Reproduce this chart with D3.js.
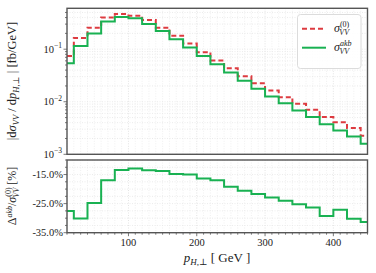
<!DOCTYPE html>
<html>
<head>
<meta charset="utf-8">
<script src="https://cdn.jsdelivr.net/npm/d3@7"></script>
<style>
  body { margin: 0; background: #fff; }
  text { font-family: "Liberation Serif", "DejaVu Serif", serif; fill: #222; }
</style>
</head>
<body>
<svg id="chart" width="376" height="273"></svg>
<script>
// bin edges in p_T [GeV]
var edges = [10, 20, 40, 60, 80, 100, 120, 140, 160, 180, 200, 220, 240, 260, 280,
             300, 320, 340, 360, 380, 400, 420, 440, 450];
// LO distribution sigma^(0)_VV [fb/GeV]
var lo = [0.0746, 0.164, 0.257, 0.399, 0.469, 0.435, 0.360, 0.257, 0.181, 0.128,
          0.0877, 0.0607, 0.0435, 0.0307, 0.0226, 0.0163, 0.01224, 0.00912, 0.00702,
          0.00510, 0.00409, 0.00315, 0.00225];
// sigma^akb_VV [fb/GeV]
var akb = [0.0542, 0.1155, 0.198, 0.335, 0.411, 0.389, 0.303, 0.223, 0.155, 0.1073,
           0.0746, 0.0519, 0.0359, 0.0250, 0.0176, 0.01256, 0.0094, 0.0068, 0.0051,
           0.00375, 0.00283, 0.00218, 0.00158];
// relative difference [%]
var ratio = [-27.5, -30.1, -24.8, -17.0, -13.4, -12.9, -13.5, -13.8, -14.8, -15.0,
             -16.4, -17.0, -19.2, -20.6, -21.7, -22.9, -24.0, -25.2, -26.3, -29.3,
             -27.1, -30.2, -31.3];
var xTicks = [100, 200, 300, 400];
var topTicks = [-1, -2, -3];
var ratioTicks = [-15, -25, -35];

var red = "#dd3b40", green = "#19b152", frame = "#555";
var svg = d3.select("#chart");

var x = d3.scaleLinear().domain([10, 450]).range([67, 367.5]);
var yTop = d3.scaleLog().domain([1e-3, 0.6]).range([154.3, 8.3]);
var yBot = d3.scaleLinear().domain([-35, -10]).range([232.7, 160]);

function steps(vals) {
    var pts = vals.map((v, i) => [edges[i], v]);
    pts.push([edges[edges.length - 1], vals[vals.length - 1]]);
    return pts;
}

// ---------- grids ----------
var minorX = d3.range(10, 451, 10);
var logMinor = [];
[1e-3, 1e-2, 1e-1].forEach(function (d) {
    for (var k = 1; k < 10; k++) if (d * k <= 0.6) logMinor.push(d * k);
});
var ratioMinor = d3.range(-35, -9, 2.5);

function grid(y0, y1, yScale, yVals) {
    var g = svg.append("g");
    g.selectAll(".vx").data(minorX).enter().append("line")
        .attr("x1", d => x(d)).attr("x2", d => x(d))
        .attr("y1", y0).attr("y2", y1)
        .attr("stroke", d => d % 100 == 0 ? "#dcdcdc" : "#ececec")
        .attr("stroke-dasharray", "1,1.5").attr("stroke-width", 0.8);
    g.selectAll(".hy").data(yVals).enter().append("line")
        .attr("x1", x.range()[0]).attr("x2", x.range()[1])
        .attr("y1", d => yScale(d)).attr("y2", d => yScale(d))
        .attr("stroke", "#e6e6e6")
        .attr("stroke-dasharray", "1,1.5").attr("stroke-width", 0.8);
}
grid(8.3, 154.3, yTop, logMinor);
grid(160, 232.7, yBot, ratioMinor);

// ---------- curves ----------
var lineTop = d3.line().curve(d3.curveStepAfter).x(d => x(d[0])).y(d => yTop(d[1]));
var lineBot = d3.line().curve(d3.curveStepAfter).x(d => x(d[0])).y(d => yBot(d[1]));

svg.append("path").attr("d", lineTop(steps(lo))).attr("fill", "none")
    .attr("stroke", red).attr("stroke-width", 2).attr("stroke-dasharray", "5,3");
svg.append("path").attr("d", lineTop(steps(akb))).attr("fill", "none")
    .attr("stroke", green).attr("stroke-width", 2);
svg.append("path").attr("d", lineBot(steps(ratio))).attr("fill", "none")
    .attr("stroke", green).attr("stroke-width", 2);

// ---------- frames ----------
[[8.3, 154.3], [160, 232.7]].forEach(function (r) {
    svg.append("rect").attr("x", 67).attr("y", r[0])
        .attr("width", 300.5).attr("height", r[1] - r[0])
        .attr("fill", "none").attr("stroke", frame).attr("stroke-width", 1.4);
});

// ---------- ticks ----------
var tk = svg.append("g").attr("stroke", frame).attr("stroke-width", 0.8);
minorX.forEach(function (d) {
    var len = d % 100 == 0 ? 3.5 : 2;
    tk.append("line").attr("x1", x(d)).attr("x2", x(d))
        .attr("y1", 232.7).attr("y2", 232.7 + len);
});
logMinor.forEach(function (d) {
    var major = Math.abs(Math.log10(d) - Math.round(Math.log10(d))) < 1e-9;
    tk.append("line").attr("x1", 67).attr("x2", 67 - (major ? 3.5 : 2))
        .attr("y1", yTop(d)).attr("y2", yTop(d));
});
ratioMinor.forEach(function (d) {
    var major = ratioTicks.indexOf(d) >= 0;
    tk.append("line").attr("x1", 67).attr("x2", 67 - (major ? 3.5 : 2))
        .attr("y1", yBot(d)).attr("y2", yBot(d));
});

// x tick labels
svg.selectAll(".xl").data(xTicks).enter().append("text")
    .attr("x", d => x(d)).attr("y", 245.5).attr("text-anchor", "middle")
    .attr("font-size", 10.5).text(d => d);

// top y labels 10^n
topTicks.forEach(function (p) {
    var t = svg.append("text").attr("x", 62).attr("y", yTop(Math.pow(10, p)) + 3.5)
        .attr("text-anchor", "end").attr("font-size", 10.5);
    t.append("tspan").text("10");
    t.append("tspan").attr("dy", -4.5).attr("font-size", 7.5).text("\u2212" + (-p));
});

// ratio labels
svg.selectAll(".rl").data(ratioTicks).enter().append("text")
    .attr("x", 63).attr("y", d => yBot(d) + 3.5).attr("text-anchor", "end")
    .attr("font-size", 10.5).text(d => d.toFixed(1) + "%");

// ---------- axis titles ----------
var t1 = svg.append("text").attr("transform", "translate(16,81) rotate(-90)")
    .attr("text-anchor", "middle").attr("font-size", 12.5);
t1.append("tspan").text("|d");
t1.append("tspan").attr("font-style", "italic").text("\u03c3");
t1.append("tspan").attr("font-style", "italic").attr("font-size", 8.5).attr("dy", 2.5).text("VV");
t1.append("tspan").attr("dy", -2.5).text(" / d");
t1.append("tspan").attr("font-style", "italic").text("p");
t1.append("tspan").attr("font-style", "italic").attr("font-size", 8.5).attr("dy", 2.5).text("H,\u22a5");
t1.append("tspan").attr("dy", -2.5).text(" | [fb/GeV]");

var t2 = svg.append("text").attr("transform", "translate(16,196) rotate(-90)")
    .attr("text-anchor", "middle").attr("font-size", 12);
t2.append("tspan").text("\u0394");
t2.append("tspan").attr("font-style", "italic").attr("font-size", 8).attr("dy", -4.5).text("akb");
t2.append("tspan").attr("dy", 4.5).text("/");
t2.append("tspan").attr("font-style", "italic").text("\u03c3");
t2.append("tspan").attr("font-size", 8).attr("dy", -5).text("(0)");
t2.append("tspan").attr("font-style", "italic").attr("font-size", 8).attr("dx", -10).attr("dy", 8).text("VV");
t2.append("tspan").attr("dy", -3).text(" [%]");

var t3 = svg.append("text").attr("x", 217).attr("y", 262).attr("text-anchor", "middle")
    .attr("font-size", 13);
t3.append("tspan").attr("font-style", "italic").text("p");
t3.append("tspan").attr("font-style", "italic").attr("font-size", 9).attr("dy", 2.5).text("H,\u22a5");
t3.append("tspan").attr("dy", -2.5).text(" [ GeV ]");

// ---------- legend ----------
var lg = svg.append("g");
lg.append("rect").attr("x", 297.5).attr("y", 14.5).attr("width", 63.5).attr("height", 54)
    .attr("rx", 3).attr("fill", "#fff").attr("fill-opacity", 0.85)
    .attr("stroke", "#d8d8d8").attr("stroke-width", 0.9);
var entries = [{c: red, dash: "5,3", sup: "(0)", y: 28.7},
               {c: green, dash: null, sup: "akb", y: 47.7}];
entries.forEach(function (e) {
    lg.append("line").attr("x1", 302).attr("x2", 326).attr("y1", e.y).attr("y2", e.y)
        .attr("stroke", e.c).attr("stroke-width", 2)
        .attr("stroke-dasharray", e.dash);
    var t = lg.append("text").attr("x", 334).attr("y", e.y + 3.5).attr("font-size", 12);
    t.append("tspan").attr("font-style", "italic").text("\u03c3");
    t.append("tspan").attr("font-size", 8).attr("font-style", e.sup == "akb" ? "italic" : null)
        .attr("dy", -5).text(e.sup);
    t.append("tspan").attr("font-style", "italic").attr("font-size", 8)
        .attr("dx", e.sup == "akb" ? -12 : -10).attr("dy", 8).text("VV");
});
</script>
</body>
</html>
